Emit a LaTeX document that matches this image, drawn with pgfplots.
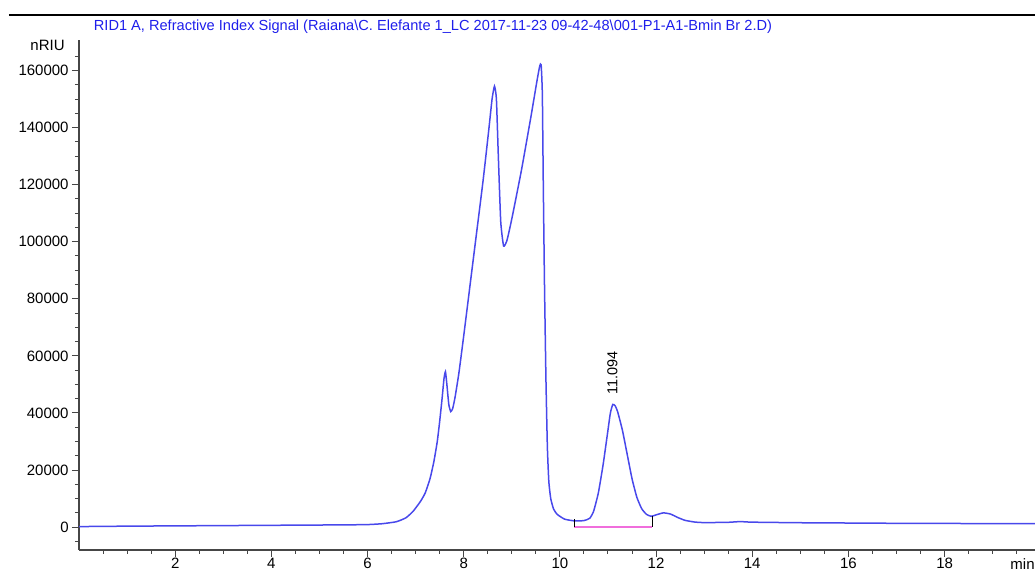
\documentclass[border=0pt]{standalone}
\usepackage{fontspec}
\setmainfont{Liberation Sans}
\usepackage{pgfplots}
\pgfplotsset{compat=1.18}
\definecolor{trace}{RGB}{72,72,235}
\definecolor{ttl}{RGB}{30,30,235}
\definecolor{bline}{RGB}{240,110,220}
\definecolor{axgray}{RGB}{70,70,70}

% RID1 A trace (min, nRIU)
\begin{document}
\begin{tikzpicture}
\useasboundingbox (-39.5pt,-11.25pt) rectangle (478pt,275pt);
\begin{axis}[
  scale only axis, width=478pt, height=254.75pt,
  xmin=0, xmax=19.88, ymin=-8000, ymax=170500,
  axis x line*=bottom, axis y line*=left,
  axis line style={axgray, line width=0.7pt},
  xtick={2,4,...,18}, minor xtick={0.5,1,...,19.5},
  ytick={0,20000,...,160000}, minor ytick={-5000,0,...,165000},
  tick align=outside, major tick length=3.5pt, minor tick length=2pt,
  tick style={axgray, line width=0.5pt},
  ticklabel style={font=\fontsize{7.5}{9}\selectfont},
  /pgf/number format/assume math mode=true,
  scaled y ticks=false,
  yticklabel style={/pgf/number format/fixed, /pgf/number format/1000 sep={}, inner sep=1.5pt},
  xticklabel style={inner sep=0.5pt},
  clip mode=individual,
]
\addplot[trace, line width=0.75pt, smooth, tension=0.3] table {
x y
0 200
1 350
2 450
3 550
4 650
5 750
5.5 800
6.0 900
6.3 1200
6.6 1900
6.8 3300
6.95 5600
7.1 9000
7.2 12000
7.3 17000
7.38 23000
7.45 30000
7.5 37000
7.55 45000
7.59 52000
7.62 54500
7.65 50000
7.69 43000
7.73 40500
7.77 41500
7.82 45500
7.9 54000
8.0 67000
8.2 94000
8.4 121000
8.52 139000
8.59 150000
8.64 154500
8.68 150000
8.72 130000
8.77 107000
8.83 98500
8.9 100500
9.0 108000
9.2 125000
9.4 144000
9.52 156000
9.58 161500
9.61 162000
9.635 152000
9.655 120000
9.68 85000
9.71 52000
9.74 28000
9.77 16000
9.81 10000
9.87 6300
9.95 4400
10.1 2800
10.3 2200
10.5 2300
10.62 3100
10.7 5500
10.8 12000
10.9 22000
11.0 34000
11.05 40000
11.1 43000
11.15 42500
11.2 40500
11.3 34000
11.4 25500
11.5 17000
11.6 10500
11.7 6500
11.8 4500
11.9 3800
12.0 4300
12.15 5000
12.3 4600
12.45 3400
12.6 2400
12.8 1800
13.0 1600
13.5 1700
13.75 1950
14.0 1750
15 1550
16 1450
17 1350
18 1300
19 1250
19.88 1250
};
\addplot[bline, line width=0.8pt] coordinates {(10.3,100)(11.92,100)};
\addplot[black, line width=0.5pt] coordinates {(10.3,100)(10.3,2700)};
\addplot[black, line width=0.5pt] coordinates {(11.92,100)(11.92,3800)};
\node[rotate=90, anchor=west, inner sep=1pt, font=\fontsize{7.2}{9}\selectfont] at (axis cs:11.094,45500) {11.094};
\end{axis}
\draw[black, line width=0.6pt] (-35pt,267.5pt) -- (478pt,267.5pt);
\node[ttl, font=\fontsize{7.3}{9}\selectfont] at (177pt,261.5pt) {RID1 A, Refractive Index Signal (Raiana\textbackslash C. Elefante 1\_LC 2017-11-23 09-42-48\textbackslash 001-P1-A1-Bmin Br 2.D)};
\node[anchor=east, inner sep=0pt, font=\fontsize{7.5}{9}\selectfont] at (-7pt,252.5pt) {nRIU};
\node[anchor=east, inner sep=0pt, font=\fontsize{7.5}{9}\selectfont] at (478pt,-7pt) {min};
\end{tikzpicture}
\end{document}
